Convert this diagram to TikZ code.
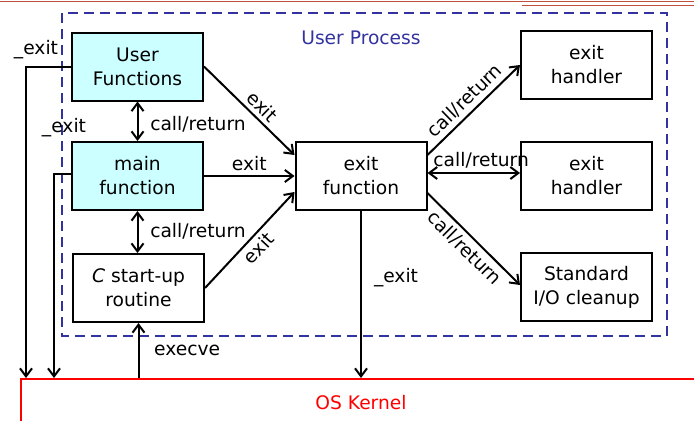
\documentclass[tikz,border=0pt]{standalone}
\usepackage{fontspec}
\setmainfont{DejaVu Sans}
\usetikzlibrary{arrows.meta,calc}
\definecolor{boxcyan}{RGB}{204,255,255}
\definecolor{procblue}{RGB}{51,51,160}
\definecolor{toprule}{RGB}{190,80,60}
\definecolor{kernred}{RGB}{255,0,0}
\begin{document}
\begin{tikzpicture}[x=0.75pt,y=-0.75pt,
  font=\fontsize{14}{18}\selectfont,
  fbox/.style={draw,line width=1.5pt,minimum width=98.25pt,minimum height=51pt,align=center,inner sep=0pt},
  cyanbox/.style={fbox,fill=boxcyan},
  tip/.tip={Straight Barb[length=6pt,width=9pt,line width=1.5pt]},
  conn/.style={line width=1.5pt,-tip},
  dconn/.style={line width=1.5pt,tip-tip},
  lbl/.style={inner sep=1pt}]
\useasboundingbox (0,0) rectangle (694,421);
% top rules
\draw[toprule,line width=0.8pt] (0,1.5) -- (694,1.5);
\draw[toprule,line width=0.8pt] (522,5.5) -- (694,5.5);
% user process frame
\draw[procblue,line width=1.7pt,dash pattern=on 7.5pt off 4.5pt] (62,13) rectangle (667,336);
\node[procblue,lbl] (up) at (361,38) {User Process};
% kernel
\node[draw=kernred,line width=1.7pt,minimum width=525pt,minimum height=60pt,inner sep=0pt,anchor=north west] (kernel) at (20,378) {};
\node[kernred,lbl] (kl) at (361,403) {OS Kernel};
% boxes
\node[cyanbox] (uf) at (137.5,66.5) {User\\Functions};
\node[cyanbox] (mf) at (137.5,176) {main\\function};
\node[fbox] (cs) at (138.5,288) {\textit{C} start-up\\routine};
\node[fbox] (ef) at (361,176) {exit\\function};
\node[fbox] (h1) at (586.5,65) {exit\\handler};
\node[fbox] (h2) at (586.5,176) {exit\\handler};
\node[fbox] (io) at (586.5,287) {Standard\\I/O cleanup};
% connectors
\draw[dconn] (uf.south) -- (mf.north);
\node[lbl] (cr1) at (198,124) {call/return};
\draw[dconn] (mf.south) -- (cs.north -| mf.south);
\node[lbl] (cr2) at (198,231) {call/return};
\draw[conn] (uf.east) -- node[lbl,sloped,above=2pt,pos=0.55] {exit} ($(ef.west)+(0,-21)$);
\draw[conn] (mf.east) -- node[lbl,above=2pt] {exit} (ef.west);
\draw[conn] (cs.east) -- node[lbl,sloped,below=2pt,pos=0.5] {exit} ($(ef.west)+(0,16)$);
\draw[conn] ($(ef.east)+(0,-21)$) -- node[lbl,sloped,above=2pt] {call/return} (h1.west);
\draw[dconn] ($(ef.east)+(0,-3)$) -- node[lbl,above=2pt,pos=0.58] {call/return} ($(h2.west)+(0,-3)$);
\draw[conn] ($(ef.east)+(0,17)$) -- node[lbl,sloped,below=2pt] {call/return} ($(io.west)+(0,-2)$);
\draw[conn] (ef.south) -- node[lbl,right=8pt,pos=0.4] {\_exit} (ef.south |- kernel.north);
\draw[conn] (cs.south |- kernel.north) -- node[lbl,right=10pt] {execve} (cs.south);
\draw[conn] (uf.west) -- ++(-45,0) coordinate (j1) -- (j1 |- kernel.north);
\node[lbl] (x1) at (36,50) {\_exit};
\draw[conn] ($(mf.west)+(0,-2)$) -- ++(-17,0) coordinate (j2) -- (j2 |- kernel.north);
\node[lbl] (x2) at (64,128) {\_exit};
\end{tikzpicture}
\end{document}
